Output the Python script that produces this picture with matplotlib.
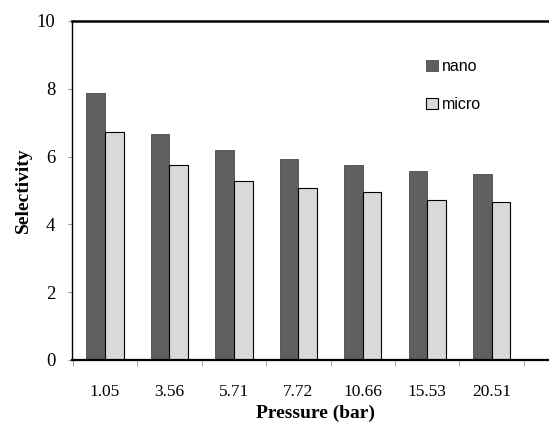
import numpy as np
import matplotlib.pyplot as plt

pressure = ["1.05", "3.56", "5.71", "7.72", "10.66", "15.53", "20.51"]
nano = [7.89, 6.68, 6.18, 5.92, 5.75, 5.57, 5.50]
micro = [6.74, 5.74, 5.28, 5.06, 4.96, 4.73, 4.67]

fig = plt.figure(figsize=(5.49, 4.30), dpi=100)
# plot area runs past the right edge of the picture, as in the original
ax = fig.add_axes([72/549, (430-360)/430, (560-72)/549, (360-21)/430])

x = np.arange(len(pressure))
w = 0.29
ax.bar(x - w/2, nano, w, color="#5f5f5f", edgecolor="#4a4a4a", linewidth=0.6, label="nano")
ax.bar(x + w/2, micro, w, color="#d9d9d9", edgecolor="black", linewidth=0.8, label="micro")

ax.set_xlim(-0.51, 7.06)
ax.set_ylim(0, 10)
ax.set_yticks([0, 2, 4, 6, 8, 10])

ax.set_xticks(x)
ax.set_xticklabels(pressure, fontfamily="Liberation Serif", fontsize=12.5)
ax.set_xticks(np.arange(len(pressure) + 1) - 0.5, minor=True)
ax.tick_params(axis="x", which="major", length=0, pad=17)
ax.tick_params(axis="x", which="minor", length=4, color="#999999", direction="out")
ax.tick_params(axis="y", length=3, color="#999999", direction="out", pad=9)
for lab in ax.get_yticklabels():
    lab.set_fontfamily("Liberation Serif")
    lab.set_fontsize(13.5)

ax.spines["right"].set_visible(False)
ax.spines["top"].set_linewidth(1.8)
ax.spines["bottom"].set_linewidth(1.6)
ax.spines["left"].set_linewidth(1.0)

ax.set_xlabel("Pressure (bar)", fontfamily="Liberation Serif", fontweight="bold", fontsize=14, labelpad=4)
ax.set_ylabel("Selectivity", fontfamily="Liberation Serif", fontweight="bold", fontsize=14, labelpad=3)

leg = ax.legend(loc="upper left", bbox_to_anchor=(412/549, 1 - 45/430), bbox_transform=fig.transFigure,
                frameon=False, handlelength=0.7, handleheight=0.7, handletextpad=0.3,
                labelspacing=1.4, prop={"family": "Liberation Sans", "size": 11.5})

fig.savefig("out.png", dpi=100)
